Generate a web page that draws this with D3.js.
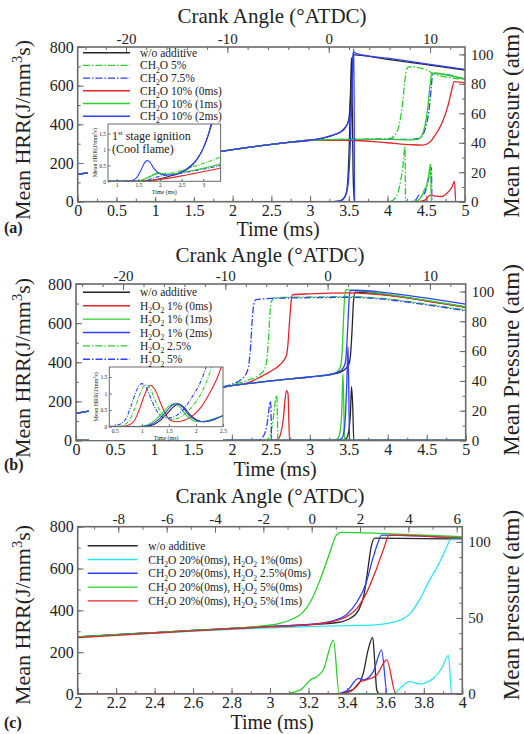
<!DOCTYPE html>
<html><head><meta charset="utf-8">
<script src="https://cdn.jsdelivr.net/npm/d3@7"></script>
<style>
body{margin:0;background:#fff}
text{font-family:"Liberation Serif","Times New Roman",serif;fill:#222}
</style>
</head><body><script>
// ================= DATA =================
const hrrTicks=[0,200,400,600,800];
const presTicksAB=[0,20,40,60,80,100];
const presTicksC=[0,50,100];
const timeTicksAB=[0,0.5,1,1.5,2,2.5,3,3.5,4,4.5,5];
const timeTicksC=[2,2.2,2.4,2.6,2.8,3,3.2,3.4,3.6,3.8,4];
const crankTicksAB=[-20,-10,0,10];
const crankTicksC=[-8,-6,-4,-2,0,2,4,6];
const insetXTicksA=[1,1.5,2,2.5,3];
const insetXTicksB=[0.5,1,1.5,2,2.5];
const insetYTicks=[0,0.5,1,1.5];

const legendA=["w/o additive","CH_2O 5%","CH_2O 7.5%","CH_2O 10% (0ms)","CH_2O 10% (1ms)","CH_2O 10% (2ms)"];
const legendB=["w/o additive","H_2O_2 1% (0ms)","H_2O_2 1% (1ms)","H_2O_2 1% (2ms)","H_2O_2 2.5%","H_2O_2 5%"];
const legendC=["w/o additive","CH_2O 20%(0ms), H_2O_2 1%(0ms)","CH_2O 20%(0ms), H_2O_2 2.5%(0ms)","CH_2O 20%(0ms), H_2O_2 5%(0ms)","CH_2O 20%(0ms), H_2O_2 5%(1ms)"];

// ---- panel (a): HRR [time ms, J/mm3s]
const a_hrr_noAdd=[[0,0],[3.3,0],[3.38,4],[3.43,15],[3.47,50],[3.49,130],[3.51,350],[3.525,620],[3.535,745],[3.545,480],[3.555,160],[3.567,30],[3.575,0],[5,0]];
const a_hrr_ch2o5=[[0,0],[4.0,0],[4.06,5],[4.1,20],[4.14,55],[4.17,110],[4.2,190],[4.225,285],[4.233,0],[5,0]];
const a_hrr_ch2o75=[[0,0],[4.3,0],[4.37,12],[4.41,35],[4.44,28],[4.49,55],[4.53,120],[4.565,178],[4.575,0],[5,0]];
const a_hrr_ch2o10_0=[[0,0],[4.4,0],[4.48,8],[4.55,33],[4.6,30],[4.7,27],[4.77,45],[4.83,75],[4.865,105],[4.88,0],[5,0]];
const a_hrr_ch2o10_1=[[0,0],[4.3,0],[4.38,5],[4.44,28],[4.48,65],[4.5,78],[4.53,135],[4.555,196],[4.565,0],[5,0]];
const a_hrr_ch2o10_2=[[0,0],[3.3,0],[3.4,6],[3.45,25],[3.49,90],[3.515,250],[3.535,480],[3.55,700],[3.565,790],[3.575,0],[5,0]];
// ---- panel (a): pressure [time ms, atm]
const a_p_early=[[0,18.6],[0.25,20.6],[0.5,22.7],[0.75,24.8],[1,27],[1.25,29.1],[1.5,31.2],[1.75,33.3],[2,35.3],[2.25,37.2],[2.5,38.9],[2.75,40.4],[3,41.7]];
const a_p_noAdd=[[3.2,43.6],[3.3,45.2],[3.4,47.5],[3.45,50],[3.49,54],[3.51,60],[3.53,80],[3.55,96],[3.57,99.6],[4,96.6],[4.5,93],[5,89.4]];
const a_p_ch2o5=[[3.5,42.2],[4,42.6],[4.06,43.5],[4.1,45.5],[4.15,52],[4.19,65],[4.22,80],[4.245,90],[4.28,91.6],[4.53,89],[4.57,87.2],[5,83.1]];
const a_p_ch2o75=[[3.5,42.3],[4,42.4],[4.3,42.3],[4.4,43],[4.45,45],[4.5,52],[4.54,64],[4.565,78],[4.58,86],[4.6,87.2],[5,83.2]];
const a_p_ch2o10_0=[[3.5,41.7],[4,40],[4.3,38.7],[4.45,38.4],[4.55,40.5],[4.6,44],[4.7,53],[4.78,65],[4.83,76],[4.86,81.5],[4.9,81.3],[5,80.8]];
const a_p_ch2o10_1=[[3.5,42.3],[4,42.3],[4.3,42],[4.4,42.5],[4.45,46],[4.48,51],[4.52,64],[4.55,80],[4.57,87.2],[5,83.3]];
const a_p_ch2o10_2=[[3.2,43.7],[3.3,45.3],[3.4,47.6],[3.45,50.2],[3.5,55],[3.53,62],[3.545,80],[3.555,100],[3.565,101.5],[3.6,100.5],[4,97.4],[4.5,93.6],[5,89.8]];
// ---- panel (a) inset: HRR [time ms, J/mm3s]
const ia_noAdd=[[0.8,0],[1.6,0.005],[1.8,0.03],[2.0,0.08],[2.2,0.15],[2.4,0.24],[2.6,0.37],[2.8,0.6],[2.95,0.9],[3.05,1.2],[3.15,1.6],[3.22,1.9]];
const ia_ch2o5=[[0.8,0],[1.5,0.01],[1.7,0.1],[1.85,0.22],[1.97,0.27],[2.1,0.24],[2.3,0.27],[2.6,0.38],[2.9,0.52],[3.2,0.65],[3.4,0.76]];
const ia_ch2o75=[[0.8,0],[1.6,0.01],[1.8,0.08],[2.0,0.16],[2.2,0.2],[2.5,0.26],[2.8,0.33],[3.1,0.41],[3.4,0.5]];
const ia_ch2o10_0=[[0.8,0],[1.7,0.005],[1.95,0.05],[2.2,0.1],[2.5,0.17],[2.8,0.25],[3.1,0.33],[3.4,0.42]];
const ia_ch2o10_1=[[0.8,0],[1.5,0.01],[1.7,0.1],[1.85,0.2],[1.97,0.25],[2.1,0.22],[2.3,0.23],[2.6,0.3],[2.9,0.38],[3.2,0.47],[3.4,0.55]];
const ia_ch2o10_2=[[0.8,0],[1.3,0.01],[1.45,0.1],[1.55,0.32],[1.63,0.55],[1.7,0.65],[1.77,0.6],[1.85,0.42],[1.95,0.28],[2.1,0.2],[2.3,0.2],[2.5,0.28],[2.7,0.45],[2.85,0.68],[3.0,1.05],[3.1,1.4],[3.2,1.9]];

// ---- panel (b): HRR
const b_hrr_noAdd=[[0,0],[3.42,0],[3.47,10],[3.5,50],[3.52,130],[3.535,275],[3.55,180],[3.565,0],[5,0]];
const b_hrr_h1_0=[[0,0],[2.55,0],[2.6,10],[2.63,40],[2.66,110],[2.68,200],[2.7,255],[2.72,240],[2.74,0],[5,0]];
const b_hrr_h1_1=[[0,0],[3.3,0],[3.36,10],[3.39,50],[3.41,150],[3.425,340],[3.435,200],[3.445,0],[5,0]];
const b_hrr_h1_2=[[0,0],[3.35,0],[3.41,10],[3.44,50],[3.46,150],[3.475,300],[3.49,480],[3.5,250],[3.51,0],[5,0]];
const b_hrr_h25=[[0,0],[2.42,0],[2.47,10],[2.5,40],[2.53,110],[2.55,180],[2.57,230],[2.58,200],[2.59,0],[5,0]];
const b_hrr_h5=[[0,0],[2.33,0],[2.38,10],[2.42,35],[2.45,80],[2.47,140],[2.49,200],[2.5,180],[2.51,0],[5,0]];
// ---- panel (b): pressure
const b_p_early=[[0,18.2],[0.25,20.5],[0.5,22.8],[0.75,25.2],[1,27.6],[1.25,29.9],[1.5,32.2],[1.75,34.6]];
const b_p_noAdd=[[2,36.8],[2.25,38.5],[2.5,40],[2.75,41.4],[3,42.6],[3.3,44.6],[3.4,46],[3.45,47.8],[3.5,51],[3.52,56],[3.54,72],[3.56,93],[3.58,99.5],[4,97.6],[4.5,93.7],[5,89.5]];
const b_p_h1_0=[[2,36.8],[2.2,38.6],[2.36,42.5],[2.5,46.5],[2.62,51],[2.7,57],[2.72,65],[2.74,80],[2.76,93],[2.78,97.8],[3,98.4],[3.5,99],[4,97.3],[4.5,93.6],[5,89.3]];
const b_p_h1_1=[[2,36.8],[2.25,38.5],[2.5,40],[2.75,41.4],[3,42.6],[3.3,44.8],[3.37,47],[3.4,51],[3.42,65],[3.435,85],[3.45,98],[3.47,101.2],[3.55,100.8],[4,98],[4.5,94],[5,89.8]];
const b_p_h1_2=[[2,36.8],[2.25,38.5],[2.5,40],[2.75,41.4],[3,42.6],[3.3,44.8],[3.4,47],[3.45,51],[3.47,60],[3.49,80],[3.505,95],[3.52,100.5],[3.6,100.8],[4,99],[4.5,95.5],[5,91.5]];
const b_p_h25=[[2,37.2],[2.2,40.5],[2.35,43.8],[2.42,48],[2.45,55],[2.47,68],[2.49,86],[2.51,93.5],[2.55,95.8],[3,96.3],[3.5,96.5],[4,95],[4.5,91.5],[5,87.5]];
const b_p_h5=[[2,37.8],[2.12,41],[2.19,45.5],[2.22,52],[2.24,63],[2.26,80],[2.28,91],[2.31,94.5],[2.5,95.3],[3,95.8],[3.5,96],[4,94.5],[4.5,91],[5,87]];
// ---- panel (b) inset
const ib_noAdd=[[0.4,0],[1.05,0.005],[1.2,0.05],[1.35,0.2],[1.5,0.45],[1.6,0.62],[1.68,0.68],[1.78,0.58],[1.9,0.35],[2.02,0.2],[2.14,0.15],[2.27,0.18],[2.4,0.26],[2.5,0.33]];
const ib_h1_0=[[0.4,0],[0.7,0.02],[0.85,0.15],[0.95,0.5],[1.05,0.95],[1.15,1.25],[1.25,1.1],[1.35,0.7],[1.45,0.35],[1.55,0.18],[1.65,0.15],[1.8,0.2],[1.95,0.35],[2.1,0.6],[2.25,1.0],[2.4,1.5],[2.48,1.85]];
const ib_h1_1=[[0.4,0],[0.95,0.005],[1.1,0.05],[1.25,0.2],[1.4,0.45],[1.5,0.62],[1.6,0.7],[1.7,0.6],[1.82,0.35],[1.95,0.19],[2.07,0.15],[2.2,0.18],[2.35,0.25],[2.5,0.34]];
const ib_h1_2=[[0.4,0],[1.0,0.005],[1.15,0.05],[1.3,0.2],[1.45,0.45],[1.55,0.63],[1.65,0.7],[1.75,0.6],[1.87,0.35],[2.0,0.2],[2.12,0.15],[2.25,0.18],[2.4,0.26],[2.5,0.33]];
const ib_h25=[[0.4,0],[0.6,0.02],[0.75,0.15],[0.87,0.55],[0.97,1.0],[1.07,1.28],[1.17,1.1],[1.27,0.7],[1.37,0.4],[1.47,0.25],[1.57,0.22],[1.72,0.3],[1.87,0.5],[2.02,0.8],[2.17,1.25],[2.3,1.85]];
const ib_h5=[[0.4,0.01],[0.55,0.05],[0.7,0.22],[0.8,0.62],[0.9,1.08],[1.0,1.3],[1.1,1.12],[1.2,0.72],[1.3,0.42],[1.4,0.28],[1.5,0.26],[1.65,0.35],[1.8,0.58],[1.95,0.95],[2.1,1.4],[2.2,1.85]];

// ---- panel (c): HRR
const c_hrr_noAdd=[[2,0],[3.35,0],[3.4,10],[3.45,35],[3.485,99],[3.51,210],[3.534,271],[3.545,150],[3.555,19],[3.57,0],[4,0]];
const c_hrr_h1=[[2,0],[3.64,0],[3.676,27],[3.727,59],[3.78,48],[3.85,75],[3.893,123],[3.928,185],[3.945,0],[4,0]];
const c_hrr_h25=[[2,0],[3.33,0],[3.4,15],[3.459,75],[3.485,67],[3.537,107],[3.58,210],[3.61,0],[4,0]];
const c_hrr_h5_0=[[2,0],[3.05,0],[3.157,19],[3.21,67],[3.243,83],[3.277,115],[3.33,258],[3.36,0],[4,0]];
const c_hrr_h5_1=[[2,0],[3.35,0],[3.42,12],[3.47,59],[3.5,67],[3.555,91],[3.607,163],[3.655,0],[4,0]];
// ---- panel (c): pressure
const c_p_noAdd=[[2,37.5],[2.2,39],[2.4,40.4],[2.6,41.8],[2.8,43.1],[3,44.4],[3.2,45.6],[3.35,47],[3.42,50],[3.46,55],[3.49,66],[3.51,83],[3.525,96],[3.545,102.5],[4,101.8]];
const c_p_h1=[[2,37.2],[2.2,38.7],[2.4,40],[2.6,41.3],[2.8,42.5],[3,43.5],[3.2,44.3],[3.4,44.9],[3.55,45.5],[3.62,46.6],[3.68,48.7],[3.73,53],[3.78,62.5],[3.83,75],[3.88,86],[3.92,97],[3.94,101.5],[4,101.5]];
const c_p_h25=[[2,37.5],[2.2,39],[2.4,40.4],[2.6,41.8],[2.8,43.1],[3,44.4],[3.2,45.7],[3.33,48.2],[3.4,52.5],[3.45,60],[3.5,73],[3.53,87],[3.56,99],[3.58,104.5],[4,102.5]];
const c_p_h5_0=[[2,37.5],[2.2,39],[2.4,40.4],[2.6,41.8],[2.8,43.2],[2.95,44.6],[3.05,46.5],[3.12,49.5],[3.17,53.5],[3.21,60.5],[3.26,75],[3.31,92.5],[3.345,104.5],[3.37,106.3],[3.6,105.5],[4,103.4]];
const c_p_h5_1=[[2,37],[2.2,38.6],[2.4,40.1],[2.6,41.5],[2.8,42.9],[3,44.2],[3.2,45.5],[3.33,47.8],[3.4,51],[3.45,56],[3.5,66],[3.55,81],[3.59,95],[3.62,104.5],[4,102.3]];

// ================= STYLES / LAYOUT =================
const COL={k:'#262626',r:'#e3242b',g:'#2bcf2b',b:'#3140ff',c:'#2ae6f2'};
const DASHDOT='7,2,1.5,2';
const FONT='"Liberation Serif","Times New Roman",serif';

const svg=d3.select('body').append('svg').attr('width',524).attr('height',734);

function rich(sel,str,fs){
  const parts=[];let buf='';
  for(let i=0;i<str.length;i++){const ch=str[i];
    if((ch==='_'||ch==='^')&&i+1<str.length){if(buf){parts.push({t:buf,k:0});buf='';}parts.push({t:str[i+1],k:ch==='_'?1:-1});i++;}
    else buf+=ch;}
  if(buf)parts.push({t:buf,k:0});
  let cur=0;
  parts.forEach(p=>{const tgt=p.k===1?fs*0.28:p.k===-1?-fs*0.38:0;
    const ts=sel.append('tspan').attr('dy',tgt-cur).text(p.t);
    if(p.k)ts.attr('font-size',fs*0.66);cur=tgt;});
}

function styleAxis(g,fs){
  g.attr('font-family',FONT);
  g.select('.domain').remove();
  g.selectAll('.tick line').attr('stroke','#6a6a6a').attr('stroke-width',1);
  g.selectAll('.tick text').attr('font-family',FONT).attr('font-size',fs).attr('fill','#222');
}

function panel(cfg){
  const g=svg.append('g');
  const x=d3.scaleLinear().domain(cfg.tDom).range([cfg.L,cfg.R]);
  const ca=d3.scaleLinear().domain(cfg.caDom).range([cfg.L,cfg.R]);
  const yH=d3.scaleLinear().domain([0,800]).range([cfg.B,cfg.T]);
  const yP=d3.scaleLinear().domain(cfg.pDom).range([cfg.B,cfg.T]);
  const clipId='clip'+cfg.id;
  svg.append('clipPath').attr('id',clipId).append('rect').attr('x',cfg.L).attr('y',cfg.T-2).attr('width',cfg.R-cfg.L).attr('height',cfg.B-cfg.T+2);
  // minor ticks
  const mk=(axis,vals,tr)=>{const a=g.append('g').attr('transform',tr).call(axis.tickValues(vals).tickSize(-3).tickFormat(''));styleAxis(a,10);};
  mk(d3.axisBottom(x),cfg.tMinor,`translate(0,${cfg.B})`);
  mk(d3.axisLeft(yH),d3.range(0,801,100),`translate(${cfg.L},0)`);
  mk(d3.axisRight(yP),cfg.pMinor,`translate(${cfg.R},0)`);
  mk(d3.axisTop(ca),cfg.caMinor,`translate(0,${cfg.T})`);
  // major axes
  let a;
  a=g.append('g').attr('transform',`translate(0,${cfg.B})`).call(d3.axisBottom(x).tickValues(cfg.tTicks).tickSize(-6).tickPadding(3).tickFormat(d=>String(d)));styleAxis(a,cfg.fsTick);
  a=g.append('g').attr('transform',`translate(${cfg.L},0)`).call(d3.axisLeft(yH).tickValues(hrrTicks).tickSize(-6).tickPadding(4).tickFormat(d=>String(d)));styleAxis(a,cfg.fsTick);
  a=g.append('g').attr('transform',`translate(${cfg.R},0)`).call(d3.axisRight(yP).tickValues(cfg.pTicks).tickSize(-6).tickPadding(6).tickFormat(d=>String(d)));styleAxis(a,cfg.fsTickR);
  a=g.append('g').attr('transform',`translate(0,${cfg.T})`).call(d3.axisTop(ca).tickValues(cfg.caTicks).tickSize(-6).tickPadding(3).tickFormat(d=>String(d)));styleAxis(a,15);
  // series
  const lineH=d3.line().x(d=>x(d[0])).y(d=>yH(d[1])).curve(d3.curveMonotoneX);
  const lineP=d3.line().x(d=>x(d[0])).y(d=>yP(d[1])).curve(d3.curveMonotoneX);
  const sg=g.append('g').attr('clip-path',`url(#${clipId})`);
  cfg.series.forEach(s=>{
    [[s.hrr,lineH],[s.p,lineP]].forEach(([d,ln])=>{
      sg.append('path').attr('d',ln(d)).attr('fill','none').attr('stroke',s.col).attr('stroke-width',1.3)
        .attr('stroke-dasharray',s.dash?DASHDOT:null).attr('stroke-linejoin','round');
    });
  });
  // frame
  g.append('rect').attr('x',cfg.L).attr('y',cfg.T).attr('width',cfg.R-cfg.L).attr('height',cfg.B-cfg.T)
    .attr('fill','none').attr('stroke','#6a6a6a').attr('stroke-width',1.6);
  // inset
  if(cfg.inset){
    const I=cfg.inset;
    g.append('rect').attr('x',I.bgX).attr('y',I.bgY).attr('width',I.bgW).attr('height',I.bgH).attr('fill','#fff');
    const ix=d3.scaleLinear().domain(I.xDom).range([I.L,I.R]);
    const iy=d3.scaleLinear().domain([0,1.8]).range([I.B,I.T]);
    const icl='iclip'+cfg.id;
    svg.append('clipPath').attr('id',icl).append('rect').attr('x',I.L).attr('y',I.T).attr('width',I.R-I.L).attr('height',I.B-I.T);
    const ig=g.append('g').attr('clip-path',`url(#${icl})`);
    const il=d3.line().x(d=>ix(d[0])).y(d=>iy(d[1])).curve(d3.curveMonotoneX);
    I.series.forEach(s=>ig.append('path').attr('d',il(s.d)).attr('fill','none').attr('stroke',s.col).attr('stroke-width',1.1)
      .attr('stroke-dasharray',s.dash?'4,1.5,1,1.5':null));
    a=g.append('g').attr('transform',`translate(0,${I.B})`).call(d3.axisBottom(ix).tickValues(I.xTicks).tickSize(-2.5).tickPadding(2).tickFormat(d=>String(d)));styleAxis(a,5.5);
    a=g.append('g').attr('transform',`translate(${I.L},0)`).call(d3.axisLeft(iy).tickValues(insetYTicks).tickSize(-2.5).tickPadding(2).tickFormat(d=>String(d)));styleAxis(a,5.5);
    g.append('rect').attr('x',I.L).attr('y',I.T).attr('width',I.R-I.L).attr('height',I.B-I.T).attr('fill','none').attr('stroke','#6a6a6a').attr('stroke-width',1);
    g.append('text').attr('x',(I.L+I.R)/2).attr('y',I.B+13).attr('text-anchor','middle').attr('font-size',6).text('Time (ms)');
    const yl=g.append('text').attr('transform',`translate(${I.L-11},${(I.T+I.B)/2}) rotate(-90)`).attr('text-anchor','middle').attr('font-size',6);
    rich(yl,'Mean HRR(J/mm^3s)',6);
    if(I.note){
      const t1=g.append('text').attr('x',I.L+4).attr('y',I.T+16).attr('font-size',12);
      t1.append('tspan').text('1');t1.append('tspan').attr('dy',-5).attr('font-size',7).text('st');t1.append('tspan').attr('dy',5).text(' stage ignition');
      g.append('text').attr('x',I.L+4).attr('y',I.T+29).attr('font-size',12).text('(Cool flame)');
    }
  }
  // legend
  const Lg=cfg.legend;
  cfg.series.forEach((s,i)=>{
    const yy=Lg.y+i*Lg.dy;
    g.append('line').attr('x1',Lg.x1).attr('x2',Lg.x2).attr('y1',yy).attr('y2',yy).attr('stroke',s.col).attr('stroke-width',1.4)
      .attr('stroke-dasharray',s.dash?DASHDOT:null);
    const t=g.append('text').attr('x',Lg.tx).attr('y',yy+4).attr('font-size',Lg.fs).attr('fill','#333');
    rich(t,s.name,Lg.fs);
  });
  // titles
  g.append('text').attr('x',cfg.titleX).attr('y',cfg.titleY).attr('text-anchor','middle').attr('font-size',21).text('Crank Angle (°ATDC)');
  g.append('text').attr('x',cfg.timeX).attr('y',cfg.timeY).attr('text-anchor','middle').attr('font-size',cfg.timeFs).text('Time (ms)');
  const lt=g.append('text').attr('transform',`translate(30,${cfg.lY}) rotate(-90)`).attr('text-anchor','middle').attr('font-size',22);
  rich(lt,'Mean HRR(J/mm^3s)',22);
  g.append('text').attr('transform',`translate(519,${cfg.rY}) rotate(-90)`).attr('text-anchor','middle').attr('font-size',23).text(cfg.rTitle);
  g.append('text').attr('x',4).attr('y',cfg.labY).attr('font-size',16).attr('font-weight','bold').text(cfg.lab);
}

const mkS=(names,cols,dashes,hrrs,ps)=>names.map((n,i)=>({name:n,col:cols[i],dash:dashes[i],hrr:hrrs[i],p:ps[i]}));

panel({id:'a',L:77.7,R:465,T:47,B:201.7,tDom:[0,5],caDom:[-24.77,13.45],pDom:[0,105],
  tTicks:timeTicksAB,tMinor:d3.range(0,5.01,0.25),caTicks:crankTicksAB,caMinor:d3.range(-24,14,2),
  pTicks:presTicksAB,pMinor:d3.range(0,105,10),fsTick:16,fsTickR:15,
  titleX:272,titleY:23,timeX:278,timeY:236,timeFs:20,lY:130,rY:122,labY:233,lab:'(a)',rTitle:'Mean Pressure (atm)',
  legend:{x1:83,x2:130,tx:140,y:52.7,dy:12.7,fs:11.5},
  series:mkS(legendA,[COL.k,COL.g,COL.b,COL.r,COL.g,COL.b],[0,1,1,0,0,0],
    [a_hrr_noAdd,a_hrr_ch2o5,a_hrr_ch2o75,a_hrr_ch2o10_0,a_hrr_ch2o10_1,a_hrr_ch2o10_2],
    [a_p_early.concat(a_p_noAdd),a_p_early.concat(a_p_ch2o5),a_p_early.concat(a_p_ch2o75),a_p_early.concat(a_p_ch2o10_0),a_p_early.concat(a_p_ch2o10_1),a_p_early.concat(a_p_ch2o10_2)]),
  inset:{bgX:88,bgY:123,bgW:132,bgH:74,L:108,R:220.6,T:124,B:181.3,xDom:[0.8,3.4],xTicks:insetXTicksA,note:true,
    series:[{d:ia_noAdd,col:COL.k},{d:ia_ch2o5,col:COL.g,dash:1},{d:ia_ch2o75,col:COL.b,dash:1},{d:ia_ch2o10_0,col:COL.r},{d:ia_ch2o10_1,col:COL.g},{d:ia_ch2o10_2,col:COL.b}]}
});

panel({id:'b',L:76,R:465.7,T:284,B:440.5,tDom:[0,5],caDom:[-24.6,13.5],pDom:[0,105],
  tTicks:timeTicksAB,tMinor:d3.range(0,5.01,0.25),caTicks:crankTicksAB,caMinor:d3.range(-24,14,2),
  pTicks:presTicksAB,pMinor:d3.range(0,105,10),fsTick:16,fsTickR:15,
  titleX:270,titleY:262,timeX:275,timeY:476,timeFs:20,lY:368,rY:360,labY:470,lab:'(b)',rTitle:'Mean Pressure (atm)',
  legend:{x1:83,x2:130,tx:140,y:292.3,dy:13.4,fs:11.5},
  series:mkS(legendB,[COL.k,COL.r,COL.g,COL.b,COL.g,COL.b],[0,0,0,0,1,1],
    [b_hrr_noAdd,b_hrr_h1_0,b_hrr_h1_1,b_hrr_h1_2,b_hrr_h25,b_hrr_h5],
    [b_p_early.concat(b_p_noAdd),b_p_early.concat(b_p_h1_0),b_p_early.concat(b_p_h1_1),b_p_early.concat(b_p_h1_2),b_p_early.concat(b_p_h25),b_p_early.concat(b_p_h5)]),
  inset:{bgX:89,bgY:366,bgW:134,bgH:74,L:109.3,R:223,T:367,B:426.7,xDom:[0.4,2.5],xTicks:insetXTicksB,note:false,
    series:[{d:ib_noAdd,col:COL.k},{d:ib_h1_0,col:COL.r},{d:ib_h1_1,col:COL.g},{d:ib_h1_2,col:COL.b},{d:ib_h25,col:COL.g,dash:1},{d:ib_h5,col:COL.b,dash:1}]}
});

panel({id:'c',L:77.7,R:462.3,T:526.7,B:694,tDom:[2,4],caDom:[-9.68,6.23],pDom:[0,110],
  tTicks:timeTicksC,tMinor:d3.range(2,4.001,0.1),caTicks:crankTicksC,caMinor:d3.range(-9,7,1),
  pTicks:presTicksC,pMinor:d3.range(0,110,10),fsTick:16,fsTickR:15,
  titleX:270,titleY:503,timeX:272,timeY:729,timeFs:20,lY:615,rY:605,labY:728,lab:'(c)',rTitle:'Mean pressure (atm)',
  legend:{x1:87.7,x2:137.7,tx:148.3,y:545.7,dy:13.8,fs:11.5},
  series:mkS(legendC,[COL.k,COL.c,COL.b,COL.g,COL.r],[0,0,0,0,0],
    [c_hrr_noAdd,c_hrr_h1,c_hrr_h25,c_hrr_h5_0,c_hrr_h5_1],
    [c_p_noAdd,c_p_h1,c_p_h25,c_p_h5_0,c_p_h5_1])
});
</script></body></html>
